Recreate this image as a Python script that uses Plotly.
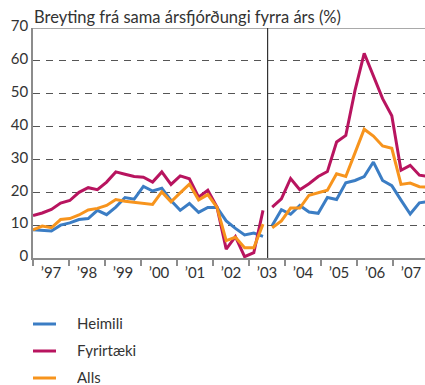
import plotly.graph_objects as go

# Quarterly year-on-year change (%), 1997Q1 - 2007Q4
years = [1997, 1998, 1999, 2000, 2001, 2002, 2003, 2004, 2005, 2006, 2007]
year_labels = ["’97", "’98", "’99", "’00", "’01", "’02", "’03", "’04", "’05", "’06", "’07"]

heimili = [
    8.6, 8.4, 8.2, 10.0, 10.7, 11.7, 12.0, 14.5, 13.2, 15.5, 18.4, 17.9,
    21.8, 20.4, 21.2, 17.5, 14.5, 16.6, 13.9, 15.4, 15.4, 11.3, 9.0, 7.0,
    7.6, 6.6, 9.9, 14.7, 13.3, 16.0, 14.0, 13.6, 18.4, 17.8, 22.9, 23.6,
    24.8, 29.2, 23.6, 22.0, 17.6, 13.4, 16.8, 17.2,
]
fyrirtaeki = [
    12.9, 13.7, 14.8, 16.7, 17.5, 20.0, 21.4, 20.8, 23.1, 26.2, 25.5, 24.8,
    24.6, 23.1, 26.2, 22.4, 25.0, 24.1, 18.5, 20.6, 15.5, 2.7, 6.5, 0.4,
    1.6, 14.5, 15.5, 18.0, 24.2, 20.8, 22.6, 24.8, 26.3, 35.3, 37.3, 51.0,
    62.3, 55.5, 48.5, 43.3, 26.7, 28.2, 25.2, 24.8,
]
alls = [
    8.6, 9.7, 9.2, 11.7, 12.0, 13.1, 14.6, 15.1, 16.0, 17.8, 17.3, 17.0,
    16.6, 16.3, 20.1, 17.1, 19.8, 22.5, 17.7, 19.3, 15.4, 5.3, 6.3, 3.1,
    3.1, 10.3, 9.2, 11.3, 15.2, 15.2, 19.1, 19.9, 20.6, 25.6, 24.8, 32.0,
    39.2, 37.1, 34.1, 33.4, 22.4, 22.8, 21.7, 21.6,
]

series_names = ["Heimili", "Fyrirtæki", "Alls"]
series_values = [heimili, fyrirtaeki, alls]
series_colors = ["#3B7DC4", "#B8145F", "#F7941D"]

# The series is broken between 2003Q2 and 2003Q3
BREAK = 26

# Page geometry (px)
W, H = 425, 385
M_L, M_T = 33, 28
PLOT_W, PLOT_H = 392, 230
M_B = H - M_T - PLOT_H
QUARTER_PX = 9.2          # horizontal distance between two quarters
YEAR_PX = 36.0            # width of a year band on the axis
YEAR_STEP = YEAR_PX / QUARTER_PX

FONT = "Lato"
TEXT = "#333333"
AXIS = "#8C8C8C"

idx = list(range(len(heimili)))


def paper_x(px):
    return (px - M_L) / PLOT_W


def paper_y(py):
    return (M_T + PLOT_H - py) / PLOT_H


fig = go.Figure()
for name, vals, col in zip(series_names, series_values, series_colors):
    for part in (slice(0, BREAK), slice(BREAK, None)):
        fig.add_trace(go.Scatter(
            x=idx[part], y=vals[part], mode="lines", name=name,
            line=dict(color=col, width=3), showlegend=False,
            hoverinfo="skip",
        ))

band_edges = [k * YEAR_STEP for k in range(len(years))]
band_mids = [(k + 0.5) * YEAR_STEP for k in range(len(years))]

fig.update_xaxes(
    range=[0, PLOT_W / QUARTER_PX],
    tickmode="array", tickvals=band_mids, ticktext=year_labels,
    ticks="", showgrid=False, zeroline=False,
    showline=True, linecolor=AXIS, linewidth=1.5,
    tickfont=dict(family=FONT, size=15, color=TEXT),
    minor=dict(tickmode="array", tickvals=band_edges, ticks="outside",
               ticklen=6, tickwidth=1.5, tickcolor=AXIS, showgrid=False),
)
fig.update_yaxes(
    range=[0, 70], tickmode="linear", tick0=0, dtick=10,
    ticks="", showgrid=True, gridcolor="#555555", gridwidth=1.2,
    griddash="7px,6px", zeroline=False,
    showline=True, linecolor=AXIS, linewidth=1.5,
    tickfont=dict(family=FONT, size=15, color=TEXT),
    ticklabelshift=-2,
)

shapes = [
    # top frame
    dict(type="line", xref="paper", yref="y", x0=0, x1=1, y0=70, y1=70,
         line=dict(color=AXIS, width=1.5)),
    # series break
    dict(type="line", xref="x", yref="y", x0=BREAK - 0.5, x1=BREAK - 0.5,
         y0=0, y1=70, line=dict(color="#333333", width=1.2)),
]

annotations = [
    dict(text="Breyting frá sama ársfjórðungi fyrra árs (%)",
         xref="paper", yref="paper", x=paper_x(31.5), y=paper_y(17.5),
         xanchor="left", yanchor="middle", showarrow=False,
         font=dict(family=FONT, size=16.5, color=TEXT)),
]

# legend below the plot
legend_rows = [324, 351, 378]
for name, col, row in zip(series_names, series_colors, legend_rows):
    shapes.append(dict(type="line", xref="paper", yref="paper",
                       x0=paper_x(33), x1=paper_x(56),
                       y0=paper_y(row), y1=paper_y(row),
                       line=dict(color=col, width=3)))
    annotations.append(dict(text=name, xref="paper", yref="paper",
                            x=paper_x(76), y=paper_y(row - 1),
                            xanchor="left", yanchor="middle", showarrow=False,
                            height=16, borderpad=0, valign="middle",
                            font=dict(family=FONT, size=15, color=TEXT)))

fig.update_layout(
    width=W, height=H,
    margin=dict(l=M_L, r=0, t=M_T, b=M_B, pad=0),
    plot_bgcolor="white", paper_bgcolor="white",
    shapes=shapes, annotations=annotations,
    showlegend=False,
)

fig.write_html("out.html")
